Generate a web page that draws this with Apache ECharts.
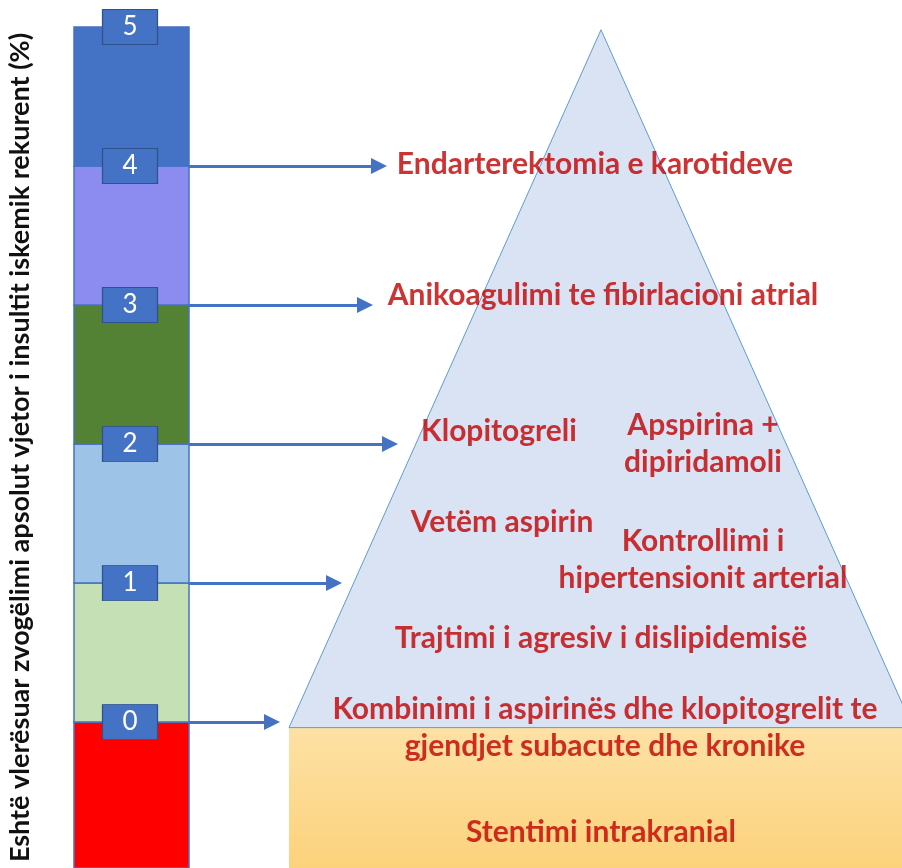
<!DOCTYPE html>
<html>
<head>
<meta charset="utf-8">
<script src="https://cdn.jsdelivr.net/npm/echarts@6.0.0/dist/echarts.min.js"></script>
<style>
html, body { margin: 0; padding: 0; background: #fff; }
#main { width: 902px; height: 868px; }
</style>
</head>
<body>
<div id="main"></div>
<script>
// skala: zvogelimi absolut vjetor (%)
var ticks = [0, 1, 2, 3, 4, 5];
var bandLow = [-1.05, 0, 1, 2, 3, 4];
var bandHigh = [0, 1, 2, 3, 4, 5];
// nivelet nga dalin shigjetat
var arrowLevels = [0, 1, 2, 3, 4];
// piramida (ne njesi te skales)
var pyramidBase = -0.04;
var pyramidTop = 4.98;
// trajtimet dhe niveli ku ndodhen
var treatments = [
	'Endarterektomia e karotideve',
	'Anikoagulimi te fibirlacioni atrial',
	'Klopitogreli',
	'Apspirina +\ndipiridamoli',
	'Vetëm aspirin',
	'Kontrollimi i\nhipertensionit arterial',
	'Trajtimi i agresiv i dislipidemisë',
	'Kombinimi i aspirinës dhe klopitogrelit te\ngjendjet subacute dhe kronike',
	'Stentimi intrakranial'
];
var treatmentLevels = [4.01, 3.07, 2.09, 2.0, 1.44, 1.17, 0.6, -0.04, -0.79];
var axisTitle = 'Eshtë vlerësuar zvogëlimi apsolut vjetor i insultit iskemik rekurent (%)';

/* layout & stil */
var bandColors = ['#ff0000', '#c5e0b4', '#9dc3e6', '#548235', '#8c8cf0', '#4472c4'];
var colLeft = 74, colRight = 189, colMid = 131;
var arrowEnds = [272, 334, 390, 365, 379];
var treatmentX = [595, 603, 499, 703, 502, 703, 601, 605, 601];
var pyrLeft = 289, pyrApex = 601, pyrRight = 913;
var FONT = 'Lato';

var chart = echarts.init(document.getElementById('main'));

var option = {
	animation: false,
	grid: { left: 0, right: 0, top: 27, bottom: 0, containLabel: false, outerBoundsMode: 'none' },
	xAxis: { type: 'value', min: 0, max: 902, show: false },
	yAxis: {
		type: 'value',
		min: -1.05,
		max: 5,
		axisLine: { show: false },
		axisTick: { show: false },
		axisLabel: { show: false },
		splitLine: { show: false },
		name: axisTitle,
		nameLocation: 'middle',
		nameRotate: 90,
		nameGap: -34,
		nameTextStyle: {
			fontFamily: FONT,
			fontWeight: 'bold',
			fontSize: 27,
			color: '#111'
		}
	},
	series: [{
		// shtylla me ngjyra
		type: 'custom',
		z: 1,
		data: bandLow.map(function(l, i) { return [l, bandHigh[i]]; }),
		renderItem: function(params, api) {
			var p1 = api.coord([colLeft, api.value(1)]);
			var p2 = api.coord([colRight, api.value(0)]);
			return {
				type: 'rect',
				shape: { x: p1[0], y: p1[1], width: p2[0] - p1[0], height: p2[1] - p1[1] },
				style: { fill: bandColors[params.dataIndex], stroke: '#4472c4', lineWidth: 1.5 }
			};
		}
	}, {
		// baza e verdhe + piramida
		type: 'custom',
		z: 1,
		data: [[pyramidBase, pyramidTop]],
		renderItem: function(params, api) {
			var b = api.value(0), t = api.value(1);
			var a = api.coord([pyrLeft, b]);
			var c = api.coord([pyrApex, t]);
			var d = api.coord([pyrRight, b]);
			var low = api.coord([pyrLeft, -1.05]);
			return {
				type: 'group',
				children: [{
					type: 'rect',
					shape: { x: a[0], y: a[1], width: d[0] - a[0], height: low[1] - a[1] },
					style: {
						fill: new echarts.graphic.LinearGradient(0, 0, 0, 1, [
							{ offset: 0, color: '#fde1a4' },
							{ offset: 1, color: '#fcd27c' }
						])
					}
				}, {
					type: 'polygon',
					shape: { points: [a, c, d] },
					style: { fill: '#dae3f3', stroke: '#5b9bd5', lineWidth: 1 }
				}]
			};
		}
	}, {
		// shigjetat
		type: 'lines',
		coordinateSystem: 'cartesian2d',
		z: 2,
		symbol: ['none', 'triangle'],
		symbolSize: [16, 16],
		lineStyle: { color: '#4472c4', width: 3, opacity: 1 },
		data: arrowLevels.map(function(l, i) {
			return { coords: [[colRight, l], [arrowEnds[i], l]] };
		})
	}, {
		// kutite me vlera
		type: 'scatter',
		z: 3,
		symbol: 'rect',
		symbolSize: [55, 35],
		itemStyle: { color: '#4472c4', borderColor: '#2f528f', borderWidth: 1, opacity: 1 },
		label: {
			show: true,
			position: 'inside',
			formatter: function(p) { return p.value[1]; },
			color: '#fff',
			fontFamily: FONT,
			fontSize: 26
		},
		data: ticks.map(function(t) { return [colMid - 1, t]; })
	}, {
		// tekstet
		type: 'scatter',
		z: 4,
		symbolSize: 0,
		label: {
			show: true,
			position: 'inside',
			formatter: function(p) { return p.name; },
			color: '#c00000',
			fontFamily: FONT,
			fontWeight: 'bold',
			fontSize: 30,
			lineHeight: 37,
			align: 'center'
		},
		data: treatments.map(function(t, i) {
			return { name: t, value: [treatmentX[i], treatmentLevels[i]] };
		})
	}]
};
chart.setOption(option);
</script>
</body>
</html>
